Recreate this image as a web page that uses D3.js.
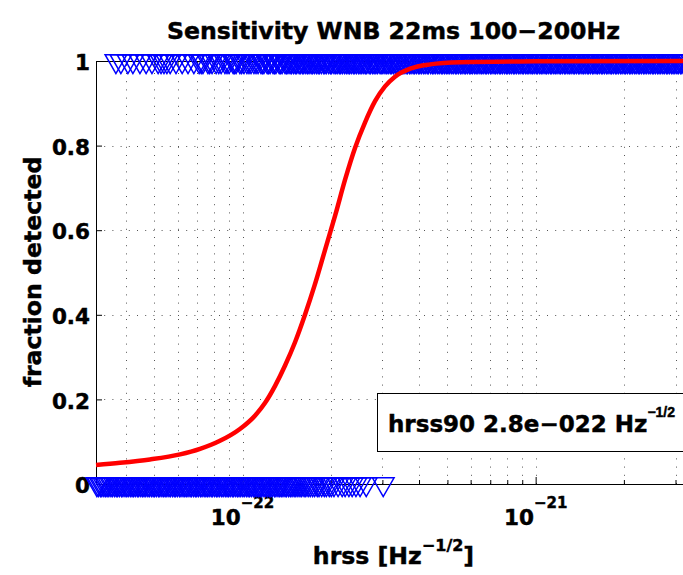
<!DOCTYPE html>
<html>
<head>
<meta charset="utf-8">
<script src="https://cdn.jsdelivr.net/npm/d3@7"></script>
<style>
  body { margin: 0; background: #fff; }
  svg { display: block; }
  text { font-family: "DejaVu Sans", sans-serif; font-weight: bold; fill: #000; stroke: #000; stroke-width: 0.45px; }
</style>
</head>
<body>
<svg id="chart" width="683" height="575"></svg>
<script>
// ---- chart text ----
const titleText = "Sensitivity WNB 22ms 100\u2212200Hz";
const xLabelParts = ["hrss [Hz", "\u22121/2", "]"];
const yLabelText = "fraction detected";
const legendParts = ["hrss90 2.8e\u2212022 Hz", "\u22121/2"];

// ---- axes ----
const xDomainLog = [-22.5, -20.47];          // log10 of hrss limits
const xMajorExponents = [-22, -21];
const yTickValues = [0, 0.2, 0.4, 0.6, 0.8, 1];
const yTickLabels = ["0", "0.2", "0.4", "0.6", "0.8", "1"];

// ---- injections (log10 hrss) ----
const detectedLogHrss = [
  -22.432, -22.415, -22.391, -22.374, -22.350, -22.329, -22.309, -22.288, -22.278, -22.268,
  -22.258, -22.247, -22.227, -22.206, -22.186, -22.166, -22.148, -22.141, -22.135, -22.118,
  -22.112, -22.104, -22.090, -22.081, -22.073, -22.060, -22.053, -22.046, -22.032, -22.027,
  -22.022, -22.009, -22.003, -21.995, -21.985, -21.978, -21.971, -21.961, -21.954, -21.947,
  -21.937, -21.932, -21.927, -21.916, -21.911, -21.906, -21.896, -21.891, -21.886, -21.875,
  -21.870, -21.865, -21.855, -21.850, -21.845,
  -21.838, -21.833, -21.826, -21.820, -21.815, -21.807, -21.803, -21.796, -21.791, -21.784,
  -21.778, -21.773, -21.766, -21.761, -21.755, -21.748, -21.742, -21.738, -21.731, -21.723,
  -21.719, -21.714, -21.706, -21.700, -21.696, -21.688, -21.682, -21.677, -21.670, -21.665,
  -21.659, -21.652, -21.646, -21.640, -21.635, -21.629, -21.622, -21.617, -21.611, -21.604,
  -21.599, -21.593, -21.586, -21.580, -21.576, -21.568, -21.563, -21.556, -21.551, -21.545,
  -21.539, -21.531, -21.527, -21.521, -21.514, -21.508, -21.503, -21.496, -21.491, -21.485,
  -21.478, -21.473, -21.466, -21.461, -21.453, -21.449, -21.442, -21.437, -21.430, -21.425,
  -21.418, -21.413, -21.407, -21.400, -21.395, -21.389, -21.382, -21.377, -21.370, -21.366,
  -21.358, -21.352, -21.347, -21.341, -21.334, -21.329, -21.322, -21.317, -21.311, -21.305,
  -21.299, -21.293, -21.286, -21.281, -21.274, -21.269, -21.263, -21.256, -21.251, -21.244,
  -21.239, -21.233, -21.226, -21.221, -21.215, -21.208, -21.203, -21.197, -21.190, -21.184,
  -21.179, -21.172, -21.167, -21.161, -21.154, -21.149, -21.142, -21.137, -21.131, -21.124,
  -21.119, -21.113, -21.106, -21.100, -21.095, -21.089, -21.083, -21.076, -21.071, -21.065,
  -21.058, -21.053, -21.046, -21.041, -21.034, -21.029, -21.023, -21.016, -21.011, -21.005,
  -20.998, -20.993, -20.986, -20.981, -20.975, -20.968, -20.963, -20.957, -20.950, -20.945,
  -20.938, -20.933, -20.927, -20.920, -20.915, -20.909, -20.902, -20.897, -20.890, -20.885,
  -20.879, -20.872, -20.867, -20.861, -20.854, -20.849, -20.842, -20.837, -20.831, -20.824,
  -20.819, -20.813, -20.806, -20.801, -20.794, -20.789, -20.783, -20.776, -20.771, -20.765,
  -20.758, -20.753, -20.746, -20.741, -20.735, -20.728, -20.723, -20.717, -20.710, -20.705,
  -20.698, -20.693, -20.687, -20.680, -20.675, -20.669, -20.662, -20.657, -20.650, -20.645,
  -20.639, -20.632, -20.627, -20.621, -20.614, -20.609, -20.602, -20.597, -20.591, -20.584,
  -20.579, -20.573, -20.566, -20.561, -20.554, -20.549, -20.543, -20.536, -20.531, -20.525,
  -20.518, -20.513, -20.506, -20.501, -20.495, -20.488, -20.483, -20.477
];

const missedLogHrss = [
  -22.497, -22.492, -22.485, -22.480, -22.473, -22.467, -22.462, -22.456, -22.449, -22.444,
  -22.437, -22.431, -22.426, -22.420, -22.413, -22.408, -22.401, -22.395, -22.390, -22.383,
  -22.377, -22.372, -22.366, -22.359, -22.354, -22.347, -22.341, -22.336, -22.330, -22.323,
  -22.318, -22.311, -22.305, -22.300, -22.294, -22.287, -22.282, -22.275, -22.269, -22.264,
  -22.258, -22.251, -22.246, -22.239, -22.233, -22.228, -22.222, -22.215, -22.210, -22.203,
  -22.197, -22.192, -22.186, -22.179, -22.174, -22.167, -22.161, -22.156, -22.150, -22.143,
  -22.138, -22.131, -22.125, -22.120, -22.114, -22.107, -22.102, -22.095, -22.089, -22.084,
  -22.078, -22.071, -22.066, -22.059, -22.053, -22.048, -22.042, -22.035, -22.030, -22.023,
  -22.017, -22.012, -22.006, -21.999, -21.994, -21.987, -21.981, -21.976, -21.970, -21.963,
  -21.958, -21.951, -21.945, -21.940, -21.934, -21.927, -21.922, -21.915, -21.909, -21.904,
  -21.898, -21.891, -21.886, -21.879, -21.873, -21.868, -21.862, -21.855, -21.850, -21.843,
  -21.837, -21.831, -21.824, -21.818, -21.811, -21.804, -21.798, -21.790, -21.784, -21.776,
  -21.769, -21.761, -21.754, -21.745, -21.739, -21.730, -21.721, -21.714, -21.704, -21.697,
  -21.688, -21.674, -21.660, -21.650, -21.637, -21.626, -21.613, -21.599, -21.578, -21.520
];

// ---- fitted efficiency curve ----
const fitLogHrss = [
  -22.500, -22.418, -22.316, -22.213, -22.145, -22.077, -22.009, -21.957, -21.923, -21.889,
  -21.855, -21.821, -21.787, -21.754, -21.720, -21.684, -21.650, -21.616, -21.582, -21.548,
  -21.514, -21.480, -21.428, -21.360, -21.258, -21.053, -20.470
];
const fitFraction = [
  0.045, 0.050, 0.058, 0.070, 0.083, 0.102, 0.130, 0.162, 0.192, 0.232,
  0.280, 0.335, 0.400, 0.470, 0.550, 0.635, 0.720, 0.795, 0.855, 0.905,
  0.940, 0.963, 0.982, 0.992, 0.997, 0.999, 1.000
];

// ---- layout ----
const plot = { left: 96, right: 691, top: 61, bottom: 484 };
const tickFont = 21.5, labelFont = 23.6, supFont = 15;

const svg = d3.select("#chart");

const x = d3.scaleLog()
  .domain(xDomainLog.map(v => Math.pow(10, v)))
  .range([plot.left, plot.right]);
const y = d3.scaleLinear().domain([0, 1]).range([plot.bottom, plot.top]);

const crisp = v => Math.round(v) + 0.5;
const allXTicks = x.ticks();
const majorXTicks = xMajorExponents.map(e => Math.pow(10, e));
const isMajor = t => majorXTicks.some(m => Math.abs(Math.log10(t / m)) < 1e-6);

// dotted grid
const grid = svg.append("g")
  .attr("stroke", "#555").attr("stroke-width", 1).attr("stroke-dasharray", "1,7.2");
grid.selectAll("line.vx").data(allXTicks).join("line")
  .attr("x1", d => crisp(x(d))).attr("x2", d => crisp(x(d)))
  .attr("y1", plot.bottom).attr("y2", plot.top);
grid.selectAll("line.hy").data(yTickValues.filter(v => v > 0 && v < 1)).join("line")
  .attr("x1", plot.left).attr("x2", plot.right)
  .attr("y1", d => crisp(y(d))).attr("y2", d => crisp(y(d)));

// axes box with inward ticks
function styleAxis(g) {
  g.select(".domain").attr("stroke", "#000").attr("stroke-width", 1);
  g.selectAll(".tick line").attr("stroke", "#000");
}
const minorTicks = allXTicks.filter(t => !isMajor(t));

svg.append("g").attr("transform", `translate(0,${plot.bottom})`)
  .call(d3.axisBottom(x).tickValues(minorTicks).tickSize(-4).tickSizeOuter(0).tickFormat(""))
  .call(styleAxis);
svg.append("g").attr("transform", `translate(0,${plot.bottom})`)
  .call(d3.axisBottom(x).tickValues(majorXTicks).tickSize(-7).tickSizeOuter(0).tickFormat(""))
  .call(styleAxis);
svg.append("g").attr("transform", `translate(0,${plot.top})`)
  .call(d3.axisTop(x).tickValues(minorTicks).tickSize(-4).tickSizeOuter(0).tickFormat(""))
  .call(styleAxis);
svg.append("g").attr("transform", `translate(0,${plot.top})`)
  .call(d3.axisTop(x).tickValues(majorXTicks).tickSize(-7).tickSizeOuter(0).tickFormat(""))
  .call(styleAxis);

const yAxis = svg.append("g").attr("transform", `translate(${plot.left},0)`)
  .call(d3.axisLeft(y).tickValues(yTickValues).tickSize(-6).tickSizeOuter(0)
    .tickPadding(6).tickFormat((d, i) => yTickLabels[i]))
  .call(styleAxis);
yAxis.selectAll(".tick text")
  .attr("font-family", "DejaVu Sans").attr("font-weight", "bold")
  .attr("font-size", tickFont).attr("dy", "0.40em").attr("fill", "#000");
svg.append("g").attr("transform", `translate(${plot.right},0)`)
  .call(d3.axisRight(y).tickValues(yTickValues).tickSize(-6).tickSizeOuter(0).tickFormat(""))
  .call(styleAxis);

// x tick labels: 10 with a superscript exponent
const xLab = svg.append("g");
xMajorExponents.forEach(e => {
  const t = xLab.append("text")
    .attr("x", x(Math.pow(10, e))).attr("y", 525)
    .attr("text-anchor", "middle").attr("font-size", tickFont);
  t.append("tspan").text("10");
  t.append("tspan").attr("font-size", supFont).attr("dy", -17)
    .text("\u2212" + Math.abs(e));
});

// injection markers (downward triangles)
const tri = d3.symbol().type(d3.symbolTriangle).size(203);
const markers = svg.append("g").attr("fill", "none").attr("stroke", "#0000ff").attr("stroke-width", 1.5);
markers.selectAll("path.det").data(detectedLogHrss).join("path")
  .attr("d", tri)
  .attr("transform", d => `translate(${x(Math.pow(10, d))},${y(1)}) rotate(180)`);
markers.selectAll("path.mis").data(missedLogHrss).join("path")
  .attr("d", tri)
  .attr("transform", d => `translate(${x(Math.pow(10, d))},${y(0)}) rotate(180)`);

// fitted curve
const fitData = fitLogHrss.map((l, i) => ({ h: Math.pow(10, l), f: fitFraction[i] }));
svg.append("path").datum(fitData)
  .attr("fill", "none").attr("stroke", "#ff0000").attr("stroke-width", 4.5)
  .attr("d", d3.line().x(d => x(d.h)).y(d => y(d.f)).curve(d3.curveMonotoneX));

// legend box
const lg = svg.append("g");
lg.append("rect").attr("x", 377.5).attr("y", 393.5).attr("width", 320).attr("height", 58)
  .attr("fill", "#fff").attr("stroke", "#000").attr("stroke-width", 1);
const lt = lg.append("text").attr("x", 388).attr("y", 432).attr("font-size", 23);
lt.append("tspan").text(legendParts[0]);
lt.append("tspan").attr("font-family", "Liberation Sans").attr("font-size", 14)
  .attr("dy", -15).text(legendParts[1]);

// title
svg.append("text").attr("x", (plot.left + plot.right) / 2).attr("y", 39)
  .attr("text-anchor", "middle").attr("font-size", labelFont).text(titleText);

// x label
const xl = svg.append("text").attr("x", (plot.left + plot.right) / 2).attr("y", 564)
  .attr("text-anchor", "middle").attr("font-size", labelFont);
xl.append("tspan").text(xLabelParts[0]);
xl.append("tspan").attr("font-size", 16).attr("dy", -13).text(xLabelParts[1]);
xl.append("tspan").attr("dy", 13).text(xLabelParts[2]);

// y label
svg.append("text").attr("transform", `translate(41,272) rotate(-90)`)
  .attr("text-anchor", "middle").attr("font-size", labelFont).text(yLabelText);
</script>
</body>
</html>
